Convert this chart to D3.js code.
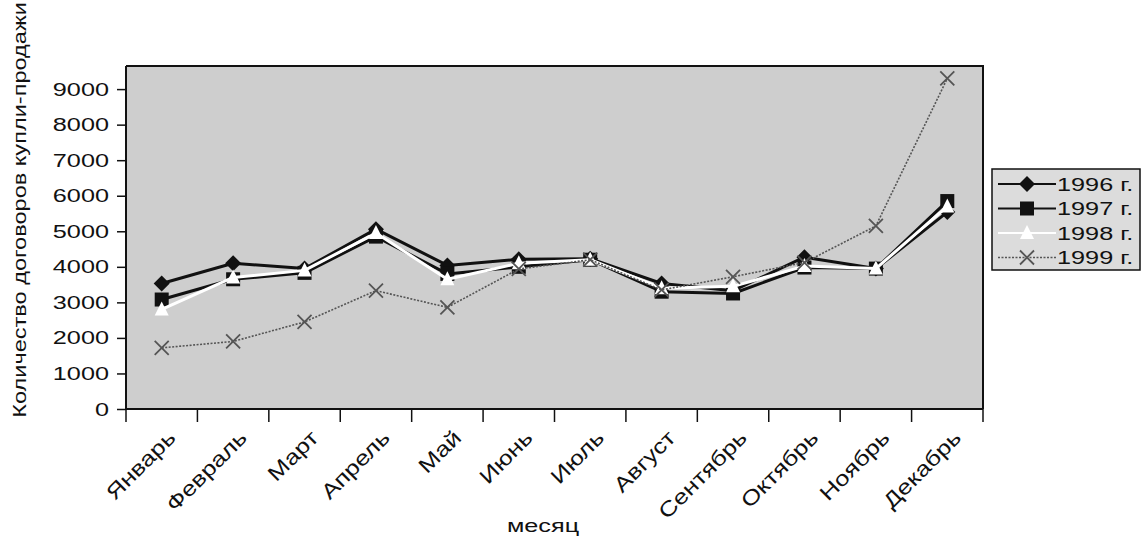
<!DOCTYPE html>
<html>
<head>
<meta charset="utf-8">
<script src="https://cdn.jsdelivr.net/npm/d3@7"></script>
<style>
  body { margin: 0; background: #fff; }
  text { font-family: "Liberation Sans", Arial, sans-serif; fill: #111; }
</style>
</head>
<body>
<div class="visHolder"></div>
<script>
var months = ['Январь', 'Февраль', 'Март', 'Апрель', 'Май', 'Июнь',
              'Июль', 'Август', 'Сентябрь', 'Октябрь', 'Ноябрь', 'Декабрь'];
var years = ['1996 г.', '1997 г.', '1998 г.', '1999 г.'];
var y1996 = [3530, 4100, 3950, 5060, 4040, 4210, 4230, 3530, 3330, 4270, 3950, 5540];
var y1997 = [3080, 3650, 3830, 4850, 3800, 4000, 4200, 3300, 3250, 3980, 3950, 5850];
var y1998 = [2800, 3700, 3900, 4950, 3650, 4100, 4200, 3400, 3450, 4020, 3950, 5700];
var y1999 = [1720, 1900, 2450, 3330, 2860, 3940, 4200, 3350, 3720, 4120, 5150, 9300];
var yTicks = [0, 1000, 2000, 3000, 4000, 5000, 6000, 7000, 8000, 9000];

var width = 1143,
    height = 539,
    plotLeft = 126,
    plotRight = 983,
    plotTop = 66,
    plotBottom = 409,
    stretch = 1.33;

var svg = d3.select('.visHolder')
    .append('svg')
    .attr('width', width)
    .attr('height', height);

// plot background
svg.append('rect')
    .attr('x', plotLeft)
    .attr('y', plotTop)
    .attr('width', plotRight - plotLeft)
    .attr('height', plotBottom - plotTop)
    .attr('fill', '#cecece');

var xScale = d3.scaleBand().domain(months).range([plotLeft, plotRight]);
var yScale = d3.scaleLinear().domain([0, 9650]).range([plotBottom, plotTop]);

// plot frame (top & right)
svg.append('path')
    .attr('d', 'M' + plotLeft + ',' + plotTop + 'H' + plotRight + 'V' + plotBottom)
    .attr('fill', 'none')
    .attr('stroke', '#111')
    .attr('stroke-width', 2);

// y axis
var yAxis = svg.append('g')
    .attr('transform', 'translate(' + plotLeft + ',0)')
    .call(d3.axisLeft(yScale).tickValues(yTicks).tickFormat(d3.format('d')).tickSize(9).tickPadding(7));
yAxis.select('.domain').attr('stroke', '#111').attr('stroke-width', 2)
    .attr('d', 'M0,' + plotTop + 'V' + plotBottom);
yAxis.selectAll('.tick line').attr('stroke', '#111').attr('stroke-width', 1.5);
yAxis.selectAll('text')
    .style('font-size', '19px')
    .attr('fill', '#111')
    .attr('x', null)
    .attr('transform', 'translate(-17,0) scale(' + stretch + ',1)');

// x axis: ticks at category boundaries
var xAxis = svg.append('g')
    .attr('transform', 'translate(0,' + plotBottom + ')');
xAxis.append('line')
    .attr('x1', plotLeft).attr('x2', plotRight)
    .attr('stroke', '#111').attr('stroke-width', 2);
xAxis.selectAll('.bound')
    .data(months.concat(['end']))
    .enter()
    .append('line')
    .attr('x1', function (d, i) { return plotLeft + i * xScale.bandwidth(); })
    .attr('x2', function (d, i) { return plotLeft + i * xScale.bandwidth(); })
    .attr('y1', 0)
    .attr('y2', 13)
    .attr('stroke', '#111')
    .attr('stroke-width', 1.5);
xAxis.selectAll('.lbl')
    .data(months)
    .enter()
    .append('text')
    .attr('text-anchor', 'end')
    .attr('transform', function (d) {
        var cx = xScale(d) + xScale.bandwidth() / 2 + 4;
        return 'translate(' + cx + ',19) rotate(-45) scale(1.22,1)';
    })
    .attr('dy', '0.75em')
    .style('font-size', '21px')
    .text(function (d) { return d; });

// axis titles
svg.append('text')
    .attr('transform', 'translate(26,210) rotate(-90) scale(1.24,1)')
    .attr('text-anchor', 'middle')
    .style('font-size', '19px')
    .text('Количество договоров купли-продажи');

svg.append('text')
    .attr('transform', 'translate(543,532) scale(' + stretch + ',1)')
    .attr('text-anchor', 'middle')
    .style('font-size', '19px')
    .text('месяц');

// series
var series = [
    { name: years[0], values: y1996, color: '#111', width: 3, dash: null, marker: 'diamond' },
    { name: years[1], values: y1997, color: '#111', width: 3, dash: null, marker: 'square' },
    { name: years[2], values: y1998, color: '#fff', width: 3, dash: null, marker: 'triangle' },
    { name: years[3], values: y1999, color: '#555', width: 1.6, dash: '2,1.5', marker: 'x' }
];

var line = d3.line()
    .x(function (d, i) { return xScale(months[i]) + xScale.bandwidth() / 2; })
    .y(function (d) { return yScale(d); });

function drawMarker(g, type, color) {
    if (type === 'diamond') {
        g.append('path').attr('d', 'M0,-8L8,0L0,8L-8,0Z').attr('fill', '#111');
    } else if (type === 'square') {
        g.append('rect').attr('x', -7).attr('y', -7).attr('width', 14).attr('height', 14).attr('fill', '#111');
    } else if (type === 'triangle') {
        g.append('path').attr('d', 'M0,-8L7,6L-7,6Z').attr('fill', '#fff');
    } else {
        g.append('path').attr('d', 'M-7,-7L7,7M-7,7L7,-7')
            .attr('stroke', color).attr('stroke-width', 1.8).attr('fill', 'none');
    }
}

series.forEach(function (s) {
    svg.append('path')
        .datum(s.values)
        .attr('d', line)
        .attr('fill', 'none')
        .attr('stroke', s.color)
        .attr('stroke-width', s.width)
        .attr('stroke-dasharray', s.dash)
        .attr('stroke-linejoin', 'round');
    s.values.forEach(function (v, i) {
        var g = svg.append('g')
            .attr('transform', 'translate(' + (xScale(months[i]) + xScale.bandwidth() / 2) + ',' + yScale(v) + ')');
        drawMarker(g, s.marker, s.color);
    });
});

// legend
var legend = svg.append('g').attr('transform', 'translate(992,169)');
legend.append('rect')
    .attr('width', 148)
    .attr('height', 101)
    .attr('fill', '#dcdcdc')
    .attr('stroke', '#111')
    .attr('stroke-width', 1.5);
series.forEach(function (s, i) {
    var gy = 15 + i * 24.5;
    legend.append('line')
        .attr('x1', 6).attr('x2', 64)
        .attr('y1', gy).attr('y2', gy)
        .attr('stroke', s.color)
        .attr('stroke-width', s.marker === 'x' ? 1.4 : 2)
        .attr('stroke-dasharray', s.dash);
    var g = legend.append('g').attr('transform', 'translate(35,' + gy + ')');
    drawMarker(g, s.marker, s.color);
    legend.append('text')
        .attr('transform', 'translate(65,' + gy + ') scale(' + stretch + ',1)')
        .attr('dy', '0.36em')
        .style('font-size', '19px')
        .text(s.name);
});
</script>
</body>
</html>
